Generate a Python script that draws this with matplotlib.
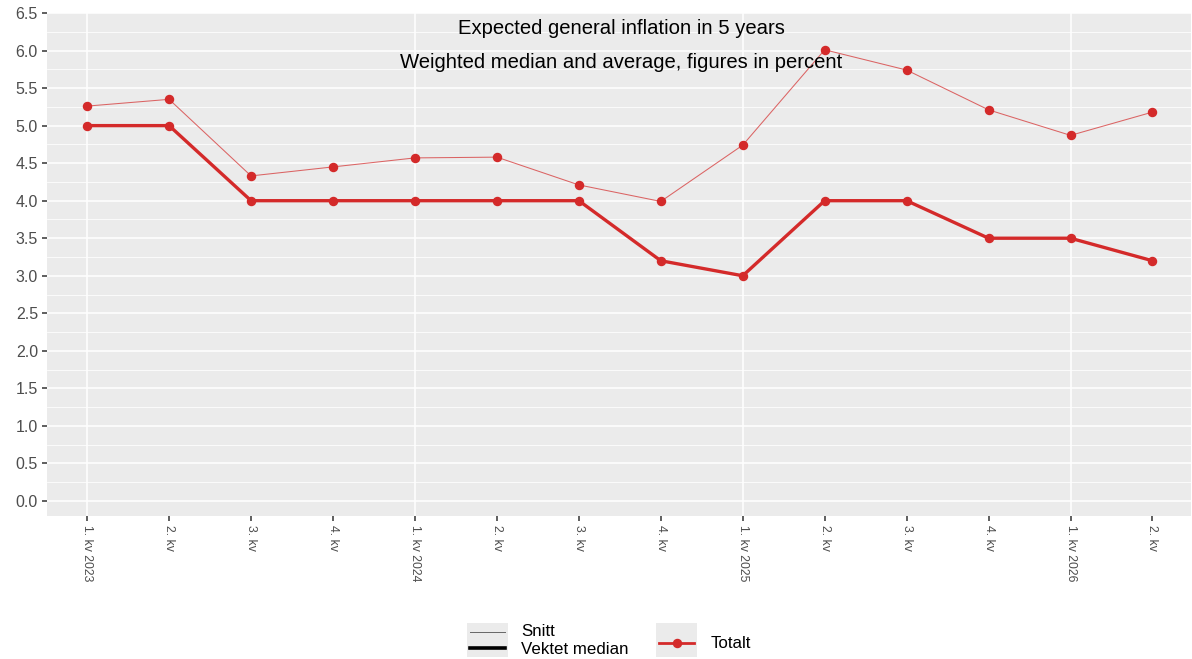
import matplotlib
matplotlib.use("Agg")
import matplotlib.pyplot as plt
from matplotlib.lines import Line2D
from matplotlib.patches import Rectangle
import numpy as np

plt.rcParams['font.family'] = ['Liberation Sans', 'DejaVu Sans']

quarters = ["1. kv 2023", "2. kv", "3. kv", "4. kv",
            "1. kv 2024", "2. kv", "3. kv", "4. kv",
            "1. kv 2025", "2. kv", "3. kv", "4. kv",
            "1. kv 2026", "2. kv"]
snitt = [5.26, 5.35, 4.33, 4.45, 4.57, 4.58, 4.21, 3.99, 4.74, 6.01, 5.74, 5.21, 4.87, 5.18]
median = [5.0, 5.0, 4.0, 4.0, 4.0, 4.0, 4.0, 3.2, 3.0, 4.0, 4.0, 3.5, 3.5, 3.2]
yticks = [0.0, 0.5, 1.0, 1.5, 2.0, 2.5, 3.0, 3.5, 4.0, 4.5, 5.0, 5.5, 6.0, 6.5]
title1 = "Expected general inflation in 5 years"
title2 = "Weighted median and average, figures in percent"

W, H = 1192, 659
fig = plt.figure(figsize=(W / 100, H / 100), dpi=100)
ax = fig.add_axes([47 / W, (H - 516) / H, (1191 - 47) / W, (516 - 13) / H])

red = "#D42A2A"
bg = "#EBEBEB"
ax.set_facecolor(bg)
for s in ax.spines.values():
    s.set_visible(False)

x = np.arange(len(quarters))
ax.set_xlim(-0.49, len(quarters) - 1 + 0.47)
ax.set_ylim(-0.2, 6.5)

# grid
for v in np.arange(-0.0, 6.51, 0.25):
    major = abs(v * 2 - round(v * 2)) < 1e-9
    ax.axhline(v, color="white", lw=1.1 if major else 0.55, zorder=0.5)
for i in range(0, len(quarters), 4):
    ax.axvline(i, color="white", lw=1.1, zorder=0.5)

ax.plot(x, snitt, color=red, lw=0.75, alpha=0.7, zorder=2)
ax.plot(x, snitt, 'o', color=red, ms=5.8, zorder=3)
ax.plot(x, median, color=red, lw=2.4, zorder=2, solid_joinstyle='round')
ax.plot(x, median, 'o', color=red, ms=5.8, zorder=3)

ax.set_yticks(yticks)
ax.set_yticklabels([f"{v:.1f}" for v in yticks], fontsize=11.5, color="#4D4D4D")
ax.set_xticks(x)
ax.set_xticklabels(quarters, rotation=-90, fontsize=8.8, color="#4D4D4D", va="top", ha="center")
ax.tick_params(axis='both', length=3.5, width=1.1, color="#333333", pad=3)
ax.grid(False)

cx = (47 + 1191) / 2 / W
fig.text(cx + 2 / W, 1 - 28 / H, title1, ha="center", va="center", fontsize=14.6, color="black")
fig.text(cx + 2 / W, 1 - 63 / H, title2, ha="center", va="center", fontsize=14.6, color="black")

# legend (manual, ggplot-like)
def fx(px):
    return px / W

def fy(py):
    return 1 - py / H

fig.patches.append(Rectangle((fx(467), fy(657)), 41 / W, 34 / H, transform=fig.transFigure,
                             facecolor=bg, edgecolor="none"))
fig.patches.append(Rectangle((fx(656), fy(657)), 41 / W, 34 / H, transform=fig.transFigure,
                             facecolor=bg, edgecolor="none"))
fig.lines.append(Line2D([fx(470), fx(505)], [fy(632), fy(632)], transform=fig.transFigure,
                        color="#666666", lw=0.7))
fig.lines.append(Line2D([fx(470), fx(505)], [fy(648), fy(648)], transform=fig.transFigure,
                        color="black", lw=2.6))
fig.lines.append(Line2D([fx(659), fx(694)], [fy(643), fy(643)], transform=fig.transFigure,
                        color=red, lw=2.0))
fig.lines.append(Line2D([fx(676.5)], [fy(643)], transform=fig.transFigure,
                        color=red, marker='o', ms=5.8, lw=0))
fig.text(fx(521), fy(632), "Snitt", ha="left", va="center", fontsize=12.2, color="black")
fig.text(fx(521), fy(649), "Vektet median", ha="left", va="center", fontsize=12.2, color="black")
fig.text(fx(711), fy(643), "Totalt", ha="left", va="center", fontsize=12.2, color="black")

fig.savefig("out.png", dpi=100, facecolor="white")
